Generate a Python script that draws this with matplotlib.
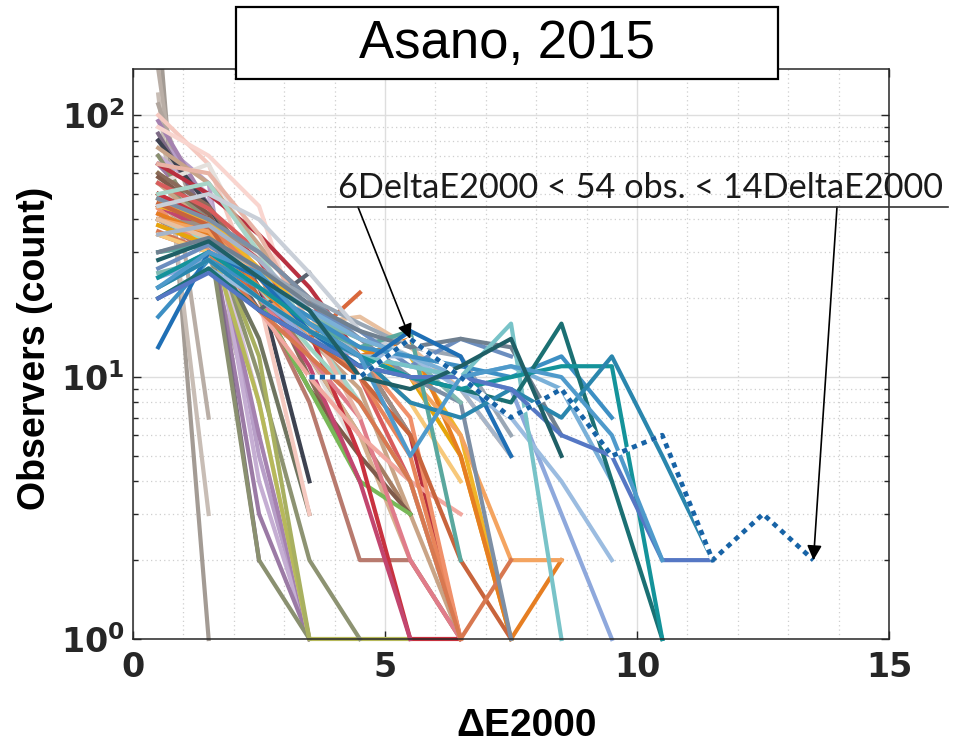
import matplotlib
matplotlib.use('Agg')
import matplotlib.pyplot as plt
import numpy as np
from matplotlib.patches import Rectangle
from matplotlib.lines import Line2D
from matplotlib.transforms import Bbox, TransformedBbox
from matplotlib.ticker import FixedLocator, NullFormatter

# histogram bin centres in dE2000
bin_centres = np.arange(0.5, 14.0, 1.0)

# observers per bin, one curve per list (starts at the first bin, zeros dropped)
counts = [
    [230, 1],
    [150, 7],
    [120, 3],
    [110, 30, 6],
    [80, 55, 5, 1],
    [70, 50, 4, 1],
    [95, 45, 6, 1],
    [65, 40, 3, 1],
    [85, 40, 2],
    [60, 42, 8, 1],
    [70, 35, 2, 1],
    [60, 35, 8, 1, 1, 1],
    [55, 40, 10, 2, 1],
    [50, 38, 12, 1],
    [45, 35, 14, 3],
    [80, 45, 22, 4],
    [100, 65, 20, 3],
    [55, 65, 28, 12, 5],
    [90, 70, 45, 12],
    [60, 45, 25, 10, 4],
    [50, 40, 22, 12, 6, 3],
    [55, 38, 20, 14, 9, 3, 1],
    [45, 35, 18, 12, 6, 2, 1],
    [40, 30, 20, 8, 2, 2, 1],
    [58, 42, 20, 9, 5, 3],
    [48, 36, 20, 9, 4, 3],
    [50, 40, 28, 15, 5, 1, 1],
    [45, 36, 22, 11, 4, 1],
    [42, 34, 20, 12, 7, 2, 1],
    [55, 44, 30, 20, 10, 4, 1],
    [65, 50, 35, 22, 12, 6, 1],
    [38, 32, 18, 10, 6, 4, 3],
    [40, 33, 22, 13, 8, 4, 1],
    [48, 38, 25, 15, 10, 5, 1],
    [44, 30, 20, 16, 12, 7, 1],
    [75, 55, 32, 18, 10],
    [50, 55, 30, 15, 8],
    [65, 60, 35, 16, 7],
    [40, 35, 18, 25],
    [35, 30, 20, 14, 21],
    [40, 38, 30, 20, 12, 6],
    [45, 40, 26, 18, 14, 12, 6, 1],
    [38, 32, 24, 16, 13, 10, 5, 1],
    [42, 35, 22, 15, 12, 14, 5, 1, 2],
    [40, 36, 24, 14, 12, 10, 6, 2, 2],
    [46, 38, 20, 14, 10, 6, 2, 1],
    [36, 30, 18, 12, 8, 4, 1, 2],
    [35, 30, 22, 16, 12, 8, 4],
    [40, 34, 24, 16, 17, 13, 9, 5],
    [48, 40, 30, 20, 14, 10, 8, 1],
    [35, 38, 28, 18, 12, 10, 9, 5],
    [30, 33, 26, 20, 16, 13, 12, 6],
    [45, 50, 40, 25, 15, 12],
    [30, 32, 24, 16, 13, 15, 2],
    [25, 28, 22, 17, 14, 12, 8],
    [26, 32, 24, 18, 15, 11, 14, 12],
    [30, 34, 26, 19, 15, 13, 14, 13, 6],
    [24, 28, 20, 14, 12, 11, 10, 9, 3, 1],
    [20, 26, 20, 15, 12, 12, 9, 7, 4, 2],
    [24, 30, 24, 18, 14, 12, 10, 11, 9, 4],
    [17, 28, 22, 17, 13, 12, 11, 10, 12, 7],
    [13, 30, 24, 15, 11, 15, 12, 5],
    [22, 28, 20, 15, 12, 11, 10, 16, 1],
    [20, 26, 18, 14, 11, 10, 9, 8, 16, 4, 1],
    [24, 30, 22, 16, 12, 10, 9, 10, 11, 11, 1],
    [22, 28, 20, 15, 12, 8, 7, 9, 7, 12, 5, 2],
    [20, 25, 18, 14, 11, 10, 10, 9, 6, 5, 2, 2],
    [22, 30, 25, 16, 12, 5, 10, 11, 10, 6, 2],
    [28, 33, 24, 18, 10, 9, 11, 14, 5],
]
line_colors = [
    '#a39b94', '#b9aea6', '#c8bdb5', '#b0a59d',
    '#b89fc8', '#c5aed3', '#a582b0', '#9b7aa5', '#7e6b86', '#d7c3df',
    '#8a9070', '#b7b95a', '#8d9372', '#a8b060', '#6f7560',
    '#3d4250', '#f5c9c0', '#e4e0dc', '#f9d5cf',
    '#8b6b5a', '#a57d62', '#c9a486', '#d6b08f', '#b87a6e', '#7f5a4a', '#78b858',
    '#c8323f', '#c2466f', '#e07c8a', '#d95c5c', '#b83040', '#f2a8a0',
    '#9ed6c4', '#e8845a', '#f0906a',
    '#c7a48a', '#a8d5c8', '#e8b4a6', '#5a6370', '#d9683c', '#9d8f86',
    '#f0b429', '#e5a50a', '#e67e22', '#f4a460', '#c8643c', '#d87850', '#f7c87a',
    '#e8c0a0', '#7d8fa5', '#a6b5c9', '#9aa7b5', '#c9cfd8',
    '#5aa89e', '#7fb8b0', '#6c8ebf', '#708090',
    '#8ea8dc', '#9bbce0', '#7ab0d8', '#3d8fc4', '#1f6fb5',
    '#78c3c8', '#1b7073', '#14939a', '#2a86ad', '#5577c4', '#4f9acb', '#1f5f66',
]

# observer highlighted by the annotation (left part hidden under the others)
highlight_counts = [0, 0, 0, 10, 10, 14, 10, 7, 9, 5, 6, 2, 3, 2]

title_text = 'Asano, 2015'
note_text = '6DeltaE2000 < 54 obs. < 14DeltaE2000'
x_ticks = [0, 5, 10, 15]
y_ticks = [1, 10, 100]
y_tick_labels = [r'$\mathbf{10^{0}}$', r'$\mathbf{10^{1}}$', r'$\mathbf{10^{2}}$']


def as_curve(values):
    y = np.array(values, dtype=float)
    y[y < 1] = np.nan
    return bin_centres[:len(y)], y


def main():
    fig = plt.figure(figsize=(9.57, 7.45), dpi=100)
    ax = fig.add_axes([0.139, 0.1423, 0.790, 0.765])
    ax.set_yscale('log')
    ax.set_xlim(0, 15)
    ax.set_ylim(1, 150)

    # let lines sitting on y=1 show fully, like matlab does
    clip = TransformedBbox(Bbox([[0, 0.97], [15, 150]]), ax.transData)

    for values, color in zip(counts, line_colors):
        x, y = as_curve(values)
        ln, = ax.plot(x, y, '-', color=color, lw=3.0)
        ln.set_clip_box(clip)

    x, y = as_curve(highlight_counts)
    ln, = ax.plot(x, y, '-', color='white', lw=3.4)
    ln.set_clip_box(clip)
    ln, = ax.plot(x, y, color='#1763a6', lw=3.4, ls=(0, (1.1, 1.1)), dash_capstyle='butt')
    ln.set_clip_box(clip)

    # grid and ticks
    ax.xaxis.set_major_locator(FixedLocator(x_ticks))
    ax.xaxis.set_minor_locator(FixedLocator(np.arange(1, 15)))
    ax.yaxis.set_major_locator(FixedLocator(y_ticks))
    minor_y = [m * 10 ** k for k in range(0, 3) for m in range(2, 10)]
    ax.yaxis.set_minor_locator(FixedLocator(minor_y))
    ax.yaxis.set_minor_formatter(NullFormatter())
    ax.set_xticklabels([str(t) for t in x_ticks])
    ax.set_yticklabels(y_tick_labels)

    ax.grid(which='major', color='#dedede', lw=1.0, ls='-')
    ax.grid(which='minor', color='#cfcfcf', lw=0.9, ls=(0, (1, 2.5)))
    ax.set_axisbelow(True)

    ax.tick_params(which='both', direction='in', top=True, right=True, color='#262626', width=1.0)
    ax.tick_params(which='major', length=6)
    ax.tick_params(axis='y', which='minor', length=3.5)
    ax.tick_params(axis='x', which='minor', length=0)
    ax.tick_params(axis='x', which='major', pad=9, labelsize=24, labelcolor='#262626')
    ax.tick_params(axis='y', which='major', pad=6, labelsize=24, labelcolor='#262626')
    for lab in ax.get_xticklabels():
        lab.set_fontweight('bold')
        lab.set_family('DejaVu Sans')
    for sp in ax.spines.values():
        sp.set_color('#262626')
        sp.set_linewidth(1.1)

    ax.set_xlabel('ΔE2000', fontsize=28, fontweight='bold', family='Liberation Sans', va='center')
    ax.xaxis.set_label_coords(0.521, -0.153)
    ax.set_ylabel('Observers (count)', fontsize=27, fontweight='bold', family='Liberation Sans', va='center')
    ax.yaxis.set_label_coords(-0.13, 0.51)

    # boxed title
    W, H = 957, 745
    fig.patches.append(Rectangle((236 / W, 1 - 79 / H), 542 / W, 72 / H, transform=fig.transFigure,
                                 facecolor='white', edgecolor='black', lw=1.6, zorder=5))
    fig.text(507 / W, 1 - 44 / H, title_text, fontsize=38, family='Liberation Sans',
             ha='center', va='center', zorder=6)

    # annotation: underlined note with two arrows
    fig.text(640 / W, 1 - 188 / H, note_text, fontsize=24.7, family='Lato', color='#1a1a1a',
             ha='center', va='center')
    fig.lines.append(Line2D([328 / W, 948 / W], [1 - 207 / H, 1 - 207 / H],
                            transform=fig.transFigure, color='#333333', lw=1.2))
    arrow = dict(arrowstyle='-|>', color='black', lw=1.2, mutation_scale=22, shrinkA=0, shrinkB=0)
    ax.annotate('', xy=(5.5, 14), xycoords='data', xytext=(358, H - 207),
                textcoords='figure pixels', arrowprops=arrow, annotation_clip=False)
    ax.annotate('', xy=(13.5, 2), xycoords='data', xytext=(837, H - 207),
                textcoords='figure pixels', arrowprops=arrow, annotation_clip=False)

    fig.savefig('out.png', dpi=100)


if __name__ == '__main__':
    main()
